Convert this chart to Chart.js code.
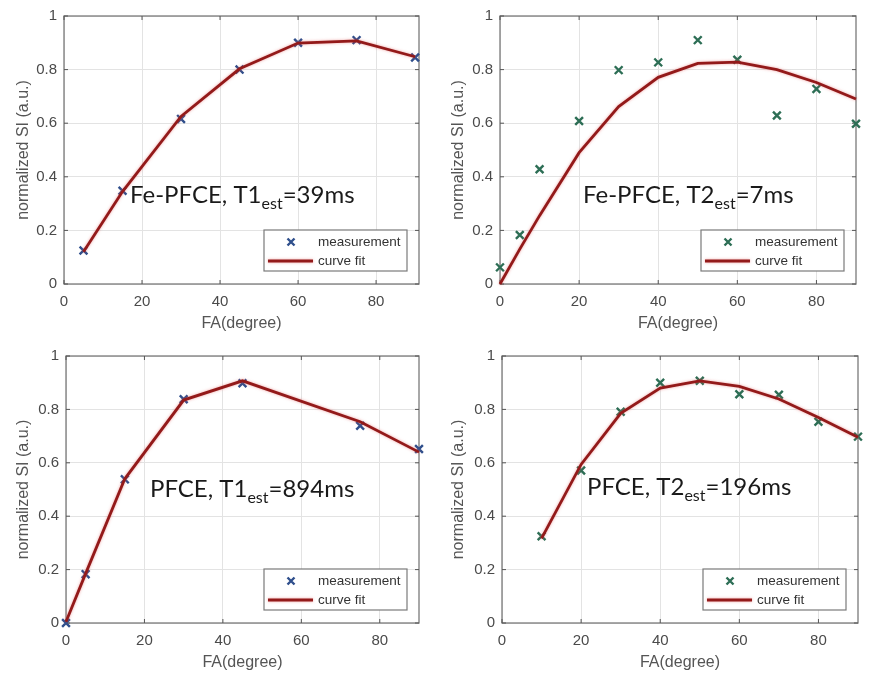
<!DOCTYPE html>
<html>
<head>
<meta charset="utf-8">
<title>Flip angle curves</title>
<script src="https://cdn.jsdelivr.net/npm/chart.js@4.4.1/dist/chart.umd.min.js"></script>
<style>
    html, body { margin: 0; padding: 0; background: #fff; }
    #wrap { position: relative; width: 870px; height: 679px; }
    canvas { position: absolute; }
</style>
</head>
<body>
<div id="wrap">
    <canvas id="feT1" width="435" height="340" style="left:0;top:0"></canvas>
    <canvas id="feT2" width="435" height="340" style="left:435px;top:0"></canvas>
    <canvas id="pfT1" width="435" height="339" style="left:0;top:340px"></canvas>
    <canvas id="pfT2" width="435" height="339" style="left:435px;top:340px"></canvas>
</div>
<script>
// Fe-PFCE, T1 (flip angle series)
const faFeT1 = [5, 15, 30, 45, 60, 75, 90];
const siFeT1 = [0.125, 0.348, 0.616, 0.80, 0.90, 0.91, 0.845];
const fitFeT1 = [0.12, 0.345, 0.625, 0.803, 0.899, 0.907, 0.848];

// Fe-PFCE, T2
const faFeT2 = [0, 5, 10, 20, 30, 40, 50, 60, 70, 80, 90];
const siFeT2 = [0.062, 0.183, 0.428, 0.608, 0.798, 0.827, 0.91, 0.837, 0.629, 0.728, 0.598];
const fitFeT2 = [0, 0.13, 0.255, 0.49, 0.662, 0.771, 0.823, 0.828, 0.80, 0.752, 0.69];

// PFCE, T1
const faPfT1 = [0, 5, 15, 30, 45, 75, 90];
const siPfT1 = [0, 0.183, 0.538, 0.838, 0.898, 0.739, 0.652];
const fitPfT1 = [0.005, 0.185, 0.54, 0.835, 0.907, 0.754, 0.64];

// PFCE, T2
const faPfT2 = [10, 20, 30, 40, 50, 60, 70, 80, 90];
const siPfT2 = [0.325, 0.571, 0.791, 0.90, 0.907, 0.857, 0.855, 0.754, 0.698];
const fitPfT2 = [0.317, 0.594, 0.785, 0.88, 0.907, 0.886, 0.839, 0.77, 0.696];

const xTicks = [0, 20, 40, 60, 80];
const yTicks = [0, 0.2, 0.4, 0.6, 0.8, 1];
const seriesLabels = ["measurement", "curve fit"];
const xTitle = "FA(degree)";
const yTitle = "normalized SI (a.u.)";

const BLUE = "#2f4f8c";
const GREEN = "#2d6e55";
const RED = "#931a1a";
const FRAME = "#7a7a7a";
const TICK_TEXT = "#4a4a4a";

const toPoints = (xs, ys) => xs.map((x, i) => ({ x: x, y: ys[i] }));

// box round the plot area with small inward ticks, like the original figure
const framePlugin = {
    id: "frame",
    beforeDatasetsDraw(chart) {
        const { ctx, chartArea: a, scales } = chart;
        ctx.save();
        ctx.strokeStyle = FRAME;
        ctx.lineWidth = 1.3;
        ctx.strokeRect(a.left, a.top, a.right - a.left, a.bottom - a.top);
        ctx.lineWidth = 1;
        ctx.strokeStyle = "#555";
        ctx.beginPath();
        xTicks.forEach((v) => {
            const px = scales.x.getPixelForValue(v);
            ctx.moveTo(px, a.bottom); ctx.lineTo(px, a.bottom - 4);
            ctx.moveTo(px, a.top); ctx.lineTo(px, a.top + 4);
        });
        yTicks.forEach((v) => {
            const py = scales.y.getPixelForValue(v);
            ctx.moveTo(a.left, py); ctx.lineTo(a.left + 4, py);
            ctx.moveTo(a.right, py); ctx.lineTo(a.right - 4, py);
        });
        ctx.stroke();
        ctx.restore();
    },
    // soft reddish edge around the fitted curve
    beforeDatasetDraw(chart, args) {
        if (args.index !== 1) return;
        chart.ctx.save();
        chart.ctx.shadowColor = "rgba(225, 90, 90, 0.55)";
        chart.ctx.shadowBlur = 3;
    },
    afterDatasetDraw(chart, args) {
        if (args.index !== 1) return;
        chart.ctx.restore();
    },
};

// "Fe-PFCE, T1est=39ms" style label with a subscript
const notePlugin = {
    id: "note",
    afterDatasetsDraw(chart, args, opts) {
        const { ctx } = chart;
        const [main, sub, tail] = opts.parts;
        let x = opts.x;
        const y = opts.y;
        ctx.save();
        ctx.fillStyle = "#1a1a1a";
        ctx.textBaseline = "alphabetic";
        ctx.textAlign = "left";
        ctx.font = "24px Lato, 'Open Sans', sans-serif";
        ctx.fillText(main, x, y);
        x += ctx.measureText(main).width;
        ctx.font = "16px Lato, 'Open Sans', sans-serif";
        ctx.fillText(sub, x, y + 6);
        x += ctx.measureText(sub).width;
        ctx.font = "24px Lato, 'Open Sans', sans-serif";
        ctx.fillText(tail, x, y);
        ctx.restore();
    },
};

// legend box in the lower right corner of the plot area
const boxLegendPlugin = {
    id: "boxLegend",
    afterDraw(chart) {
        const { ctx, chartArea: a } = chart;
        const w = 143, h = 41;
        const left = a.right - 12 - w;
        const top = a.bottom - 13 - h;
        const meas = chart.data.datasets[0];
        const fit = chart.data.datasets[1];
        ctx.save();
        ctx.fillStyle = "#fff";
        ctx.fillRect(left, top, w, h);
        ctx.strokeStyle = FRAME;
        ctx.lineWidth = 1.2;
        ctx.strokeRect(left, top, w, h);

        const r1 = top + 12, r2 = top + 31;
        const mx = left + 27;
        ctx.strokeStyle = meas.borderColor;
        ctx.lineWidth = 2.4;
        ctx.beginPath();
        ctx.moveTo(mx - 3.5, r1 - 3.5); ctx.lineTo(mx + 3.5, r1 + 3.5);
        ctx.moveTo(mx + 3.5, r1 - 3.5); ctx.lineTo(mx - 3.5, r1 + 3.5);
        ctx.stroke();

        ctx.strokeStyle = fit.borderColor;
        ctx.lineWidth = fit.borderWidth;
        ctx.shadowColor = "rgba(225, 90, 90, 0.55)";
        ctx.shadowBlur = 3;
        ctx.beginPath();
        ctx.moveTo(left + 4, r2); ctx.lineTo(left + 49, r2);
        ctx.stroke();
        ctx.shadowBlur = 0;

        ctx.fillStyle = "#333";
        ctx.font = "13.5px 'Liberation Sans', Arial, sans-serif";
        ctx.textBaseline = "middle";
        ctx.fillText(meas.label, left + 54, r1);
        ctx.fillText(fit.label, left + 54, r2);
        ctx.restore();
    },
};

function makePanel(id, xs, ys, fit, color, area, xMax, note) {
    const canvas = document.getElementById(id);
    const W = canvas.width, H = canvas.height;
    return new Chart(canvas.getContext("2d"), {
        type: "scatter",
        data: {
            datasets: [{
                label: seriesLabels[0],
                data: toPoints(xs, ys),
                pointStyle: "crossRot",
                pointRadius: 5.5,
                pointBorderWidth: 2.4,
                borderColor: color,
                backgroundColor: color,
                clip: false,
                order: 2,
            }, {
                label: seriesLabels[1],
                data: toPoints(xs, fit),
                showLine: true,
                pointRadius: 0,
                borderColor: RED,
                borderWidth: 2.8,
                clip: false,
                order: 1,
            }],
        },
        options: {
            responsive: false,
            animation: false,
            events: [],
            layout: { padding: { left: 0, top: area.top, right: W - area.right, bottom: 0 } },
            plugins: {
                legend: { display: false },
                tooltip: { enabled: false },
                note: note,
            },
            scales: {
                x: {
                    type: "linear",
                    min: 0,
                    max: xMax,
                    afterFit: (scale) => { scale.height = H - area.bottom; },
                    afterBuildTicks: (scale) => { scale.ticks = xTicks.map((v) => ({ value: v })); },
                    grid: { color: "#e3e3e3", drawTicks: false },
                    border: { display: false },
                    ticks: {
                        padding: 9,
                        color: TICK_TEXT,
                        font: { family: "'Liberation Sans', Arial, sans-serif", size: 15 },
                    },
                    title: {
                        display: true,
                        text: xTitle,
                        color: "#555",
                        padding: { top: 0, bottom: 7 },
                        font: { family: "'Liberation Sans', Arial, sans-serif", size: 16 },
                    },
                },
                y: {
                    min: 0,
                    max: 1,
                    afterFit: (scale) => { scale.width = area.left; },
                    afterBuildTicks: (scale) => { scale.ticks = yTicks.map((v) => ({ value: v })); },
                    grid: { color: "#e3e3e3", drawTicks: false },
                    border: { display: false },
                    ticks: {
                        padding: 7,
                        color: TICK_TEXT,
                        font: { family: "'Liberation Sans', Arial, sans-serif", size: 15 },
                        callback: (v) => String(+v.toFixed(1)),
                    },
                    title: {
                        display: true,
                        text: yTitle,
                        color: "#555",
                        padding: { top: 14, bottom: 0 },
                        font: { family: "'Liberation Sans', Arial, sans-serif", size: 16 },
                    },
                },
            },
        },
        plugins: [framePlugin, notePlugin, boxLegendPlugin],
    });
}

makePanel("feT1", faFeT1, siFeT1, fitFeT1, BLUE,
    { left: 64, right: 419, top: 15, bottom: 284 }, 91,
    { parts: ["Fe-PFCE, T1", "est", "=39ms"], x: 130, y: 203 });
makePanel("feT2", faFeT2, siFeT2, fitFeT2, GREEN,
    { left: 65, right: 421, top: 15, bottom: 284 }, 90,
    { parts: ["Fe-PFCE, T2", "est", "=7ms"], x: 148, y: 203 });
makePanel("pfT1", faPfT1, siPfT1, fitPfT1, BLUE,
    { left: 66, right: 419, top: 15, bottom: 283 }, 90,
    { parts: ["PFCE, T1", "est", "=894ms"], x: 150, y: 157 });
makePanel("pfT2", faPfT2, siPfT2, fitPfT2, GREEN,
    { left: 67, right: 423, top: 15, bottom: 283 }, 90,
    { parts: ["PFCE, T2", "est", "=196ms"], x: 152, y: 155 });
</script>
</body>
</html>
